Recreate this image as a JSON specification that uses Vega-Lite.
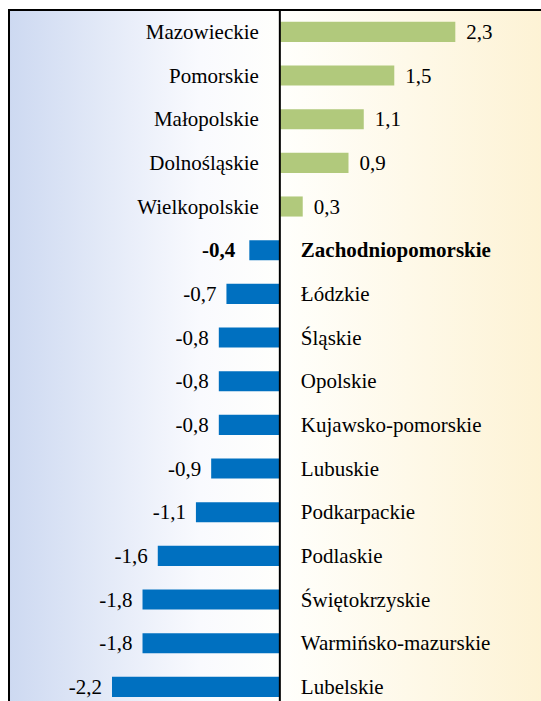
{
  "$schema": "https://vega.github.io/schema/vega-lite/v6.json",
  "width": 545.5,
  "height": 698.7,
  "autosize": {"type": "none"},
  "padding": {"left": 9, "top": 10, "right": 0, "bottom": 0},
  "background": "#ffffff",
  "config": {
    "view": {"stroke": null},
    "locale": {"number": {"decimal": ",", "thousands": " ", "grouping": [3], "currency": ["", " zł"], "minus": "-"}},
    "text": {"font": "Liberation Serif", "fontSize": 21, "color": "#000000"}
  },
  "data": {"values": [
    {"region": "Mazowieckie", "value": 2.3, "bold": false},
    {"region": "Pomorskie", "value": 1.5, "bold": false},
    {"region": "Małopolskie", "value": 1.1, "bold": false},
    {"region": "Dolnośląskie", "value": 0.9, "bold": false},
    {"region": "Wielkopolskie", "value": 0.3, "bold": false},
    {"region": "Zachodniopomorskie", "value": -0.4, "bold": true},
    {"region": "Łódzkie", "value": -0.7, "bold": false},
    {"region": "Śląskie", "value": -0.8, "bold": false},
    {"region": "Opolskie", "value": -0.8, "bold": false},
    {"region": "Kujawsko-pomorskie", "value": -0.8, "bold": false},
    {"region": "Lubuskie", "value": -0.9, "bold": false},
    {"region": "Podkarpackie", "value": -1.1, "bold": false},
    {"region": "Podlaskie", "value": -1.6, "bold": false},
    {"region": "Świętokrzyskie", "value": -1.8, "bold": false},
    {"region": "Warmińsko-mazurskie", "value": -1.8, "bold": false},
    {"region": "Lubelskie", "value": -2.2, "bold": false}
  ]},
  "encoding": {
    "y": {"field": "region", "type": "nominal", "sort": null, "axis": null,
          "scale": {"paddingInner": 0.54, "paddingOuter": 0.27}}
  },
  "resolve": {"scale": {"x": "shared"}},
  "layer": [
    {
      "data": {"values": [{"bg": 1}]},
      "mark": {"type": "rect", "stroke": "#000000", "strokeWidth": 2,
        "fill": {"gradient": "linear", "x1": 0, "y1": 0, "x2": 1, "y2": 0,
          "stops": [
            {"offset": 0, "color": "#cdd9f1"},
            {"offset": 0.35, "color": "#f9fafe"},
            {"offset": 0.497, "color": "#fffffc"},
            {"offset": 1, "color": "#fdf2d3"}
          ]}},
      "encoding": {
        "y": {"value": 0},
        "y2": {"value": 698.7},
        "x": {"datum": -3.55, "type": "quantitative", "scale": {"domain": [-3.55, 3.6], "nice": false, "zero": false}, "axis": null},
        "x2": {"datum": 3.6}
      }
    },
    {
      "mark": {"type": "bar"},
      "encoding": {
        "x": {"field": "value", "type": "quantitative", "axis": null},
        "color": {"condition": {"test": "datum.value > 0", "value": "#b1c97c"}, "value": "#0070c0"}
      }
    },
    {
      "mark": {"type": "rule", "color": "#000000", "strokeWidth": 2},
      "data": {"values": [{"z": 0}]},
      "encoding": {
        "x": {"datum": 0, "type": "quantitative"},
        "y": {"value": 0},
        "y2": {"value": 698.7}
      }
    },
    {
      "transform": [{"filter": "datum.value > 0"}],
      "mark": {"type": "text", "align": "right", "baseline": "middle", "dx": -21, "dy": 1},
      "encoding": {"x": {"datum": 0, "type": "quantitative"}, "text": {"field": "region"}}
    },
    {
      "transform": [{"filter": "datum.value < 0 && !datum.bold"}],
      "mark": {"type": "text", "align": "left", "baseline": "middle", "dx": 21, "dy": 1},
      "encoding": {"x": {"datum": 0, "type": "quantitative"}, "text": {"field": "region"}}
    },
    {
      "transform": [{"filter": "datum.bold"}],
      "mark": {"type": "text", "align": "left", "baseline": "middle", "dx": 21, "dy": 1, "fontWeight": "bold"},
      "encoding": {"x": {"datum": 0, "type": "quantitative"}, "text": {"field": "region"}}
    },
    {
      "transform": [{"filter": "datum.value > 0"}],
      "mark": {"type": "text", "align": "left", "baseline": "middle", "dx": 11, "dy": 1},
      "encoding": {"x": {"field": "value", "type": "quantitative"}, "text": {"field": "value", "type": "quantitative", "format": ".1f"}}
    },
    {
      "transform": [{"filter": "datum.value < 0 && !datum.bold"}],
      "mark": {"type": "text", "align": "right", "baseline": "middle", "dx": -10, "dy": 1},
      "encoding": {"x": {"field": "value", "type": "quantitative"}, "text": {"field": "value", "type": "quantitative", "format": ".1f"}}
    },
    {
      "transform": [{"filter": "datum.bold"}],
      "mark": {"type": "text", "align": "right", "baseline": "middle", "dx": -14, "dy": 1, "fontWeight": "bold"},
      "encoding": {"x": {"field": "value", "type": "quantitative"}, "text": {"field": "value", "type": "quantitative", "format": ".1f"}}
    }
  ]
}
